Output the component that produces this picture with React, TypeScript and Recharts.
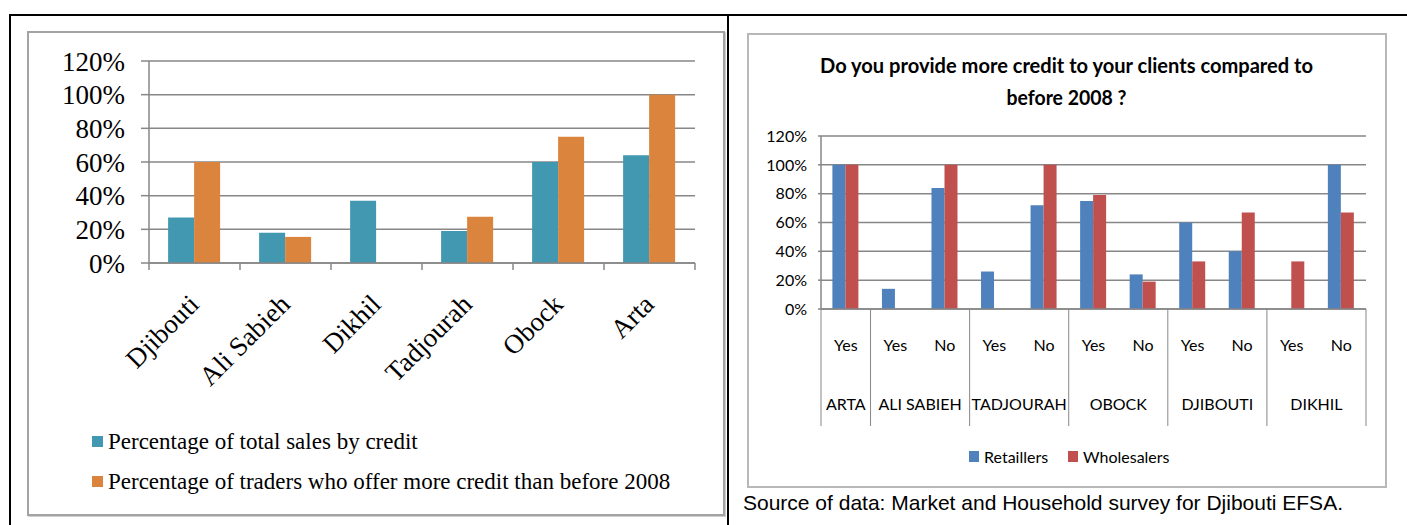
import { BarChart, Bar, XAxis, YAxis, CartesianGrid } from 'recharts'

// ---- left chart: credit sales by district ----
const districts = ['Djibouti', 'Ali Sabieh', 'Dikhil', 'Tadjourah', 'Obock', 'Arta']
const salesByCredit = [0.27, 0.18, 0.37, 0.19, 0.6, 0.64]
const moreCreditTraders = [0.6, 0.155, null, 0.275, 0.75, 1.0]

// ---- right chart: more credit than before 2008 ----
const regions = ['ARTA', 'ALI SABIEH', 'ALI SABIEH', 'TADJOURAH', 'TADJOURAH', 'OBOCK', 'OBOCK', 'DJIBOUTI', 'DJIBOUTI', 'DIKHIL', 'DIKHIL']
const answers = ['Yes', 'Yes', 'No', 'Yes', 'No', 'Yes', 'No', 'Yes', 'No', 'Yes', 'No']
const retailers = [1, 0.14, 0.84, 0.26, 0.72, 0.75, 0.24, 0.6, 0.4, null, 1]
const wholesalers = [1, null, 1, null, 1, 0.79, 0.19, 0.33, 0.67, 0.33, 0.67]

const pctTicks = [0, 0.2, 0.4, 0.6, 0.8, 1, 1.2]

const leftData = districts.map((d, i) => ({
  district: d,
  sales: salesByCredit[i],
  traders: moreCreditTraders[i],
}))

const rightData = regions.map((r, i) => ({
  region: r,
  answer: answers[i],
  retailers: retailers[i],
  wholesalers: wholesalers[i],
}))

const gray = '#878787'
const serif = "'Liberation Serif', 'Times New Roman', serif"
const sans = "Lato, 'Open Sans', sans-serif"
const pct = (v: number) => `${Math.round(v * 100)}%`

// ============================================
// Custom ticks
// ============================================

function DistrictTick(props: any) {
  const { x, y, payload } = props
  const half = payload.offset || 45.5
  const i = payload.index ?? props.index
  return (
    <g>
      <line x1={x - half} x2={x - half} y1={y} y2={y + 7} stroke={gray} strokeWidth={1.5} />
      {i === districts.length - 1 && (
        <line x1={x + half} x2={x + half} y1={y} y2={y + 7} stroke={gray} strokeWidth={1.5} />
      )}
      <text
        transform={`translate(${x + 6},${y + 43}) rotate(-45)`}
        textAnchor="end"
        fontFamily={serif}
        fontSize={27}
        fill="#000"
      >
        {payload.value}
      </text>
    </g>
  )
}

function AnswerTick(props: any) {
  const { x, y, payload } = props
  return (
    <text x={x} y={y + 42} textAnchor="middle" fontFamily={sans} fontSize={16} fill="#000">
      {payload.value}
    </text>
  )
}

function RegionTick(props: any) {
  const { x, y, payload } = props
  const half = payload.offset || 24.8
  const i = payload.index ?? props.index
  const region = regions[i]
  const first = i === 0 || regions[i - 1] !== region
  const last = i === regions.length - 1
  const size = regions.filter((r) => r === region).length
  return (
    <g>
      {first && <line x1={x - half} x2={x - half} y1={y - 70} y2={y + 47} stroke={gray} strokeWidth={1} />}
      {last && <line x1={x + half} x2={x + half} y1={y - 70} y2={y + 47} stroke={gray} strokeWidth={1} />}
      {first && (
        <text
          x={x - half + size * half}
          y={y + 31}
          textAnchor="middle"
          fontFamily={sans}
          fontSize={16}
          fill="#000"
        >
          {region}
        </text>
      )}
    </g>
  )
}

// ============================================
// Main
// ============================================

export default function App() {
  return (
    <div style={{ position: 'absolute', left: 0, top: 0, width: 1407, height: 525, background: '#fff', overflow: 'hidden' }}>
      {/* table lines */}
      <div style={{ position: 'absolute', left: 9, top: 14, width: 1398, height: 2, background: '#000' }} />
      <div style={{ position: 'absolute', left: 9, top: 14, width: 2, height: 511, background: '#000' }} />
      <div style={{ position: 'absolute', left: 727, top: 14, width: 2, height: 511, background: '#000' }} />

      {/* chart frames */}
      <div style={{ position: 'absolute', left: 27, top: 31, width: 694, height: 481, border: '2px solid #a3a3a3', boxShadow: '1px 1px 0 #cfcfcf' }} />
      <div style={{ position: 'absolute', left: 747, top: 33, width: 636, height: 451, border: '2px solid #b8b8b8' }} />

      <div style={{ position: 'absolute', left: 29, top: 33 }}>
        <BarChart
          width={694}
          height={400}
          data={leftData}
          margin={{ top: 28, right: 28, left: 0, bottom: 0 }}
          barCategoryGap="21%"
          barGap={0}
        >
          <CartesianGrid vertical={false} stroke={gray} strokeWidth={1.5} />
          <XAxis
            dataKey="district"
            interval={0}
            height={170}
            tickLine={false}
            tickSize={0}
            tickMargin={0}
            axisLine={{ stroke: gray, strokeWidth: 1.5 }}
            tick={<DistrictTick />}
          />
          <YAxis
            width={120}
            domain={[0, 1.2]}
            ticks={pctTicks}
            interval={0}
            tickFormatter={pct}
            tickSize={8}
            tickMargin={16}
            axisLine={{ stroke: gray, strokeWidth: 1.5 }}
            tickLine={{ stroke: gray, strokeWidth: 1.5 }}
            tick={{ fontSize: 27, fontFamily: serif, fill: '#000' }}
          />
          <Bar dataKey="sales" fill="#4297b1" isAnimationActive={false} />
          <Bar dataKey="traders" fill="#db843d" isAnimationActive={false} />
        </BarChart>
      </div>

      <div style={{ position: 'absolute', left: 748, top: 34 }}>
        <BarChart
          width={637}
          height={392}
          data={rightData}
          margin={{ top: 102, right: 19, left: 0, bottom: 0 }}
          barCategoryGap="23%"
          barGap={0}
        >
          <CartesianGrid vertical={false} stroke={gray} strokeWidth={1.5} />
          <XAxis
            dataKey="answer"
            interval={0}
            height={70}
            tickLine={false}
            tickSize={0}
            tickMargin={0}
            axisLine={{ stroke: gray, strokeWidth: 1.5 }}
            tick={<AnswerTick />}
          />
          <XAxis
            xAxisId="group"
            dataKey="region"
            interval={0}
            height={47}
            tickLine={false}
            tickSize={0}
            tickMargin={0}
            axisLine={false}
            tick={<RegionTick />}
          />
          <YAxis
            width={73}
            domain={[0, 1.2]}
            ticks={pctTicks}
            interval={0}
            tickFormatter={pct}
            tickSize={3}
            tickMargin={11}
            axisLine={{ stroke: gray, strokeWidth: 1.5 }}
            tickLine={{ stroke: gray, strokeWidth: 1.5 }}
            tick={{ fontSize: 16, fontFamily: sans, fill: '#000' }}
          />
          <Bar dataKey="retailers" fill="#4f81bd" isAnimationActive={false} />
          <Bar dataKey="wholesalers" fill="#c0504d" isAnimationActive={false} />
        </BarChart>
      </div>

      {/* titles, legends, source */}
      <svg width={1407} height={525} style={{ position: 'absolute', left: 0, top: 0, pointerEvents: 'none' }}>
        <rect x={92} y={436} width={11} height={11} fill="#4297b1" />
        <text x={108} y={449} fontFamily={serif} fontSize={23} fill="#000">
          Percentage of total sales by credit
        </text>
        <rect x={92} y={476} width={11} height={11} fill="#db843d" />
        <text x={108} y={489} fontFamily={serif} fontSize={23} fill="#000">
          Percentage of traders who offer more credit than before 2008
        </text>

        <text x={1066.5} y={73} textAnchor="middle" fontFamily={sans} fontWeight="bold" fontSize={20} fill="#000" textLength={493} lengthAdjust="spacingAndGlyphs">
          Do you provide more credit to your clients compared to
        </text>
        <text x={1066.5} y={104.5} textAnchor="middle" fontFamily={sans} fontWeight="bold" fontSize={20} fill="#000" textLength={120} lengthAdjust="spacingAndGlyphs">
          before 2008 ?
        </text>

        <rect x={969} y={451} width={10} height={11} fill="#4f81bd" />
        <text x={984} y={463} fontFamily={sans} fontSize={16} fill="#000">Retaillers</text>
        <rect x={1068} y={451} width={10} height={11} fill="#c0504d" />
        <text x={1083} y={463} fontFamily={sans} fontSize={16} fill="#000">Wholesalers</text>

        <text x={743} y={510} fontFamily="'Liberation Sans', Arial, sans-serif" fontSize={21} fill="#000">
          Source of data: Market and Household survey for Djibouti EFSA.
        </text>
      </svg>
    </div>
  )
}
